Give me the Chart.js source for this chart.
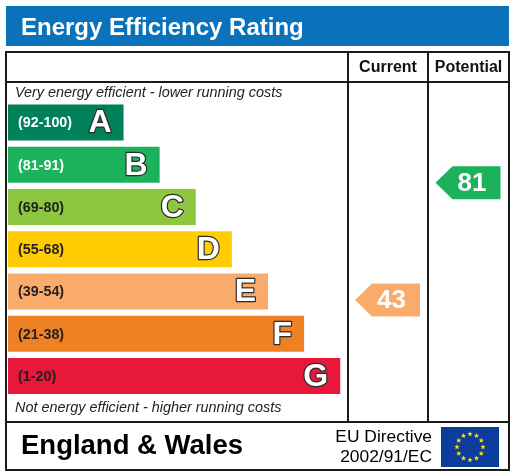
<!DOCTYPE html>
<html lang="en">
<head>
<meta charset="UTF-8">
<script src="https://cdn.jsdelivr.net/npm/chart.js@4.4.0/dist/chart.umd.min.js"></script>
<style>
    html, body { margin: 0; padding: 0; background: #fff; }
    .chart-box { position: relative; width: 514px; height: 475px; }
</style>
<title>Energy Efficiency Rating</title>
</head>
<body>
<div class="chart-box"><canvas id="epc"></canvas></div>
<script>
    // rating bands, top (best) to bottom
    const bandLetters = ['A', 'B', 'C', 'D', 'E', 'F', 'G'];
    const bandMin = [92, 81, 69, 55, 39, 21, 1];
    const bandMax = [100, 91, 80, 68, 54, 38, 20];
    const bandSteps = [1, 2, 3, 4, 5, 6, 7];
    const bandColors = ['#00815a', '#1cb25c', '#8dc63f', '#ffcc03', '#f8ab6b', '#ef8125', '#e8183b'];
    const bandTextColors = ['#ffffff', '#ffffff', '#231f20', '#231f20', '#231f20', '#231f20', '#231f20'];

    // current / potential ratings
    const ratingColumns = ['Current', 'Potential'];
    const ratingValues = [43, 81];

    const X_MIN = -2.2;
    const X_MAX = 7.16;
    const BAR_SHARE = 0.852;
    const FONT = '"Liberation Sans", Arial, sans-serif';

    // table layout
    const frame = { left: 6, right: 509, top: 52, head: 82, body: 422, bottom: 470, cols: [348, 428, 509] };

    function bandOf(v) {
        return bandMin.findIndex((lo, k) => v >= lo && v <= bandMax[k]);
    }

    // fractional category index so the arrow sits inside its band
    function bandPosition(v) {
        const i = bandOf(v);
        const f = (bandMax[i] - v) / (bandMax[i] - bandMin[i]);
        return i - BAR_SHARE / 2 + f * BAR_SHARE;
    }

    function drawStar(ctx, x, y, r) {
        ctx.beginPath();
        for (let k = 0; k < 10; k++) {
            const rad = k % 2 === 0 ? r : r * 0.42;
            const a = -Math.PI / 2 + k * Math.PI / 5;
            ctx.lineTo(x + rad * Math.cos(a), y + rad * Math.sin(a));
        }
        ctx.closePath();
        ctx.fill();
    }

    const epcPlugin = {
        id: 'epcFrame',
        beforeDraw(chart) {
            const ctx = chart.ctx;
            ctx.save();
            ctx.fillStyle = '#ffffff';
            ctx.fillRect(0, 0, chart.width, chart.height);

            // title bar
            ctx.fillStyle = '#0a72ba';
            ctx.fillRect(6, 6, 503, 40);
            ctx.fillStyle = '#ffffff';
            ctx.font = 'bold 24px ' + FONT;
            ctx.textBaseline = 'alphabetic';
            ctx.textAlign = 'left';
            ctx.fillText('Energy Efficiency Rating', 21, 35);

            // column headers
            ctx.fillStyle = '#111';
            ctx.font = 'bold 16px ' + FONT;
            ctx.textAlign = 'center';
            ctx.textBaseline = 'middle';
            ratingColumns.forEach((name, c) => {
                ctx.fillText(name, (frame.cols[c] + frame.cols[c + 1]) / 2, 68);
            });

            // top / bottom captions
            ctx.textAlign = 'left';
            ctx.font = 'italic 14.4px ' + FONT;
            ctx.fillStyle = '#222';
            ctx.fillText('Very energy efficient - lower running costs', 15, 93);
            ctx.fillText('Not energy efficient - higher running costs', 15, 408);

            // footer
            ctx.fillStyle = '#000';
            ctx.font = 'bold 27.5px ' + FONT;
            ctx.fillText('England & Wales', 21, 446);
            ctx.font = '17.4px ' + FONT;
            ctx.textAlign = 'right';
            ctx.fillText('EU Directive', 432, 437);
            ctx.fillText('2002/91/EC', 432, 457);

            // EU flag
            ctx.fillStyle = '#0d3d9c';
            ctx.fillRect(441, 427, 58, 40);
            ctx.fillStyle = '#ffde00';
            for (let k = 0; k < 12; k++) {
                const a = k * Math.PI / 6;
                drawStar(ctx, 470 + 13 * Math.cos(a), 447 + 13 * Math.sin(a), 2.8);
            }
            ctx.restore();
        },
        afterDatasetsDraw(chart) {
            const ctx = chart.ctx;
            const meta = chart.getDatasetMeta(0);
            const yScale = chart.scales.y;
            ctx.save();

            // band labels and letters
            meta.data.forEach((bar, i) => {
                const left = Math.min(bar.x, bar.base);
                const right = Math.max(bar.x, bar.base);
                ctx.textBaseline = 'middle';
                ctx.textAlign = 'left';
                ctx.font = 'bold 14.3px ' + FONT;
                ctx.fillStyle = bandTextColors[i];
                ctx.fillText('(' + bandMin[i] + '-' + bandMax[i] + ')', left + 10, bar.y + 1);

                ctx.textAlign = 'right';
                ctx.font = 'bold 32px ' + FONT;
                ctx.lineWidth = 2.4;
                ctx.lineJoin = 'round';
                ctx.strokeStyle = '#2a2a2a';
                ctx.strokeText(bandLetters[i], right - 12, bar.y + 1);
                ctx.fillStyle = '#ffffff';
                ctx.fillText(bandLetters[i], right - 12, bar.y + 1);
            });

            // rating arrows
            ratingValues.forEach((v, c) => {
                const y = yScale.getPixelForValue(bandPosition(v));
                const cx = (frame.cols[c] + frame.cols[c + 1]) / 2;
                const left = cx - 33, right = cx + 32, tip = 17, h = 33;
                ctx.fillStyle = bandColors[bandOf(v)];
                ctx.beginPath();
                ctx.moveTo(left, y);
                ctx.lineTo(left + tip, y - h / 2);
                ctx.lineTo(right, y - h / 2);
                ctx.lineTo(right, y + h / 2);
                ctx.lineTo(left + tip, y + h / 2);
                ctx.closePath();
                ctx.fill();
                ctx.fillStyle = '#ffffff';
                ctx.font = 'bold 26px ' + FONT;
                ctx.textAlign = 'center';
                ctx.textBaseline = 'middle';
                ctx.fillText(String(v), (left + right) / 2 + 4, y + 1);
            });
            ctx.restore();
        },
        afterDraw(chart) {
            const ctx = chart.ctx;
            ctx.save();
            ctx.strokeStyle = '#1a1a1a';
            ctx.lineWidth = 2;
            ctx.strokeRect(frame.left, frame.top, frame.right - frame.left, frame.bottom - frame.top);
            ctx.beginPath();
            ctx.moveTo(frame.left, frame.head);
            ctx.lineTo(frame.right, frame.head);
            ctx.moveTo(frame.left, frame.body);
            ctx.lineTo(frame.right, frame.body);
            ctx.moveTo(frame.cols[0], frame.top);
            ctx.lineTo(frame.cols[0], frame.body);
            ctx.moveTo(frame.cols[1], frame.top);
            ctx.lineTo(frame.cols[1], frame.body);
            ctx.stroke();
            ctx.restore();
        }
    };

    new Chart(document.getElementById('epc'), {
        type: 'bar',
        data: {
            labels: bandLetters,
            datasets: [{
                data: bandSteps,
                base: X_MIN,
                backgroundColor: bandColors,
                borderWidth: 0,
                barPercentage: BAR_SHARE,
                categoryPercentage: 1.0
            }]
        },
        options: {
            indexAxis: 'y',
            responsive: true,
            maintainAspectRatio: false,
            animation: false,
            layout: { padding: { left: 8, top: 101.4, right: 168, bottom: 77.85 } },
            plugins: {
                legend: { display: false },
                tooltip: { enabled: false }
            },
            scales: {
                x: { type: 'linear', min: X_MIN, max: X_MAX, display: false },
                y: { type: 'category', display: false }
            }
        },
        plugins: [epcPlugin]
    });
</script>
</body>
</html>
